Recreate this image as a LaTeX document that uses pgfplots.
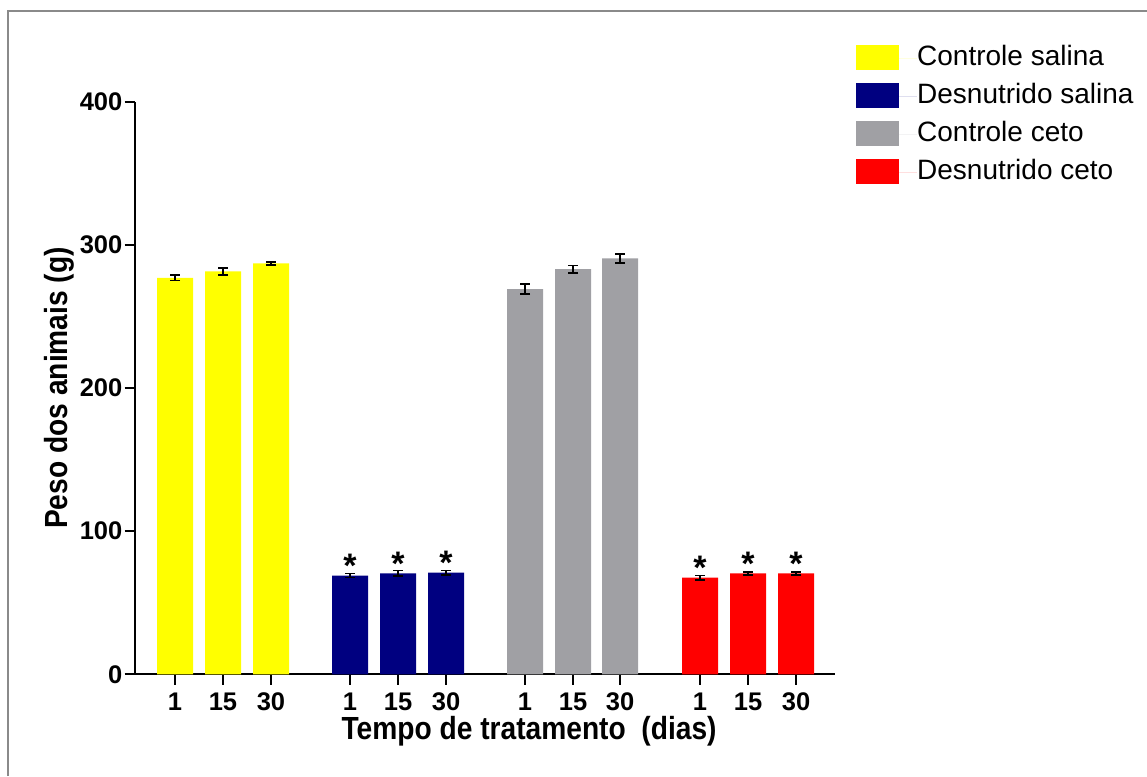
\documentclass[border=0pt]{standalone}
\usepackage{fontspec}
\setmainfont{Liberation Sans}
\usepackage{pgfplots}
\pgfplotsset{compat=1.18}
\definecolor{cyel}{HTML}{FFFF00}
\definecolor{cnavy}{HTML}{000080}
\definecolor{cgray}{HTML}{A0A0A4}
\definecolor{cred}{HTML}{FF0000}
\definecolor{cframe}{HTML}{8A8A8A}
\begin{document}
\begin{tikzpicture}
\useasboundingbox (0pt,0pt) rectangle (1147pt,776pt);
\draw[cframe, line width=2.5pt] (8pt,0pt) -- (8pt,765pt) -- (1147pt,765pt);
\begin{axis}[
 at={(135pt,101.7pt)}, anchor=south west,
 scale only axis, width=700pt, height=572.6pt,
 xmin=0, xmax=700, ymin=0, ymax=400,
 axis x line=bottom, axis y line=left,
 axis line style={-, line width=2.2pt, black},
 xtick={40,88,136,215,263,311,390,438,485,565,613,661},
 xticklabels={1,15,30,1,15,30,1,15,30,1,15,30},
 ytick={0,100,200,300,400},
 tick align=outside, major tick length=10.5pt,
 tick style={line width=2.2pt, black},
 /pgf/number format/assume math mode=true,
 ticklabel style={font=\fontsize{25.5}{25.5}\selectfont\bfseries},
 xticklabel style={inner sep=2pt, yshift=-6pt},
 yticklabel style={inner sep=2pt},
 xlabel={\scalebox{0.88}[1]{Tempo de tratamento\ \ (dias)}},
 ylabel={\scalebox{0.88}[1]{Peso dos animais (g)}},
 label style={font=\fontsize{32}{32}\selectfont\bfseries},
 xlabel style={at={(axis description cs:0.563,-0.1147)}, anchor=base},
 ylabel style={at={(axis description cs:-0.0971,0.5)}, anchor=base},
 legend cell align=left,
 legend style={at={(1.03,1.0988)}, anchor=north west, draw=none, fill=none,
   font=\fontsize{28}{28}\selectfont, row sep=13pt, inner sep=0pt,
   nodes={inner sep=0pt, text height=20pt, text depth=5pt}},
 error bars/error bar style={line width=1.6pt, black},
 error bars/error mark options={rotate=90, mark size=5pt, line width=1.6pt, black},
 every node near coord/.append style={font=\fontsize{34}{34}\selectfont\bfseries, anchor=base, inner sep=0pt, yshift=-2pt, black},
]
\addplot[ybar, bar width=36pt, bar shift=0pt, fill=cyel, draw=none,
  legend image code/.code={\fill[cyel] (0pt,-12.5pt) rectangle (43pt,12.5pt); \path (0pt,0pt) rectangle (61pt,0pt);},
  error bars/.cd, y dir=both, y explicit]
  coordinates {(40,277) +- (0,2) (88,281.5) +- (0,2.5) (136,287) +- (0,1)};
\addlegendentry{Controle salina}
\addplot[ybar, bar width=36pt, bar shift=0pt, fill=cnavy, draw=none,
  nodes near coords={*},
  legend image code/.code={\fill[cnavy] (0pt,-12.5pt) rectangle (43pt,12.5pt); \path (0pt,0pt) rectangle (61pt,0pt);},
  error bars/.cd, y dir=both, y explicit]
  coordinates {(215,69) +- (0,1.5) (263,70.5) +- (0,2) (311,71) +- (0,1.5)};
\addlegendentry{Desnutrido salina}
\addplot[ybar, bar width=36pt, bar shift=0pt, fill=cgray, draw=none,
  legend image code/.code={\fill[cgray] (0pt,-12.5pt) rectangle (43pt,12.5pt); \path (0pt,0pt) rectangle (61pt,0pt);},
  error bars/.cd, y dir=both, y explicit]
  coordinates {(390,269) +- (0,3.5) (438,283) +- (0,2.5) (485,290.5) +- (0,3)};
\addlegendentry{Controle ceto}
\addplot[ybar, bar width=36pt, bar shift=0pt, fill=cred, draw=none,
  nodes near coords={*},
  legend image code/.code={\fill[cred] (0pt,-12.5pt) rectangle (43pt,12.5pt); \path (0pt,0pt) rectangle (61pt,0pt);},
  error bars/.cd, y dir=both, y explicit]
  coordinates {(565,67.5) +- (0,1.5) (613,70.5) +- (0,1) (661,70.5) +- (0,1)};
\addlegendentry{Desnutrido ceto}
\end{axis}
\end{tikzpicture}
\end{document}
